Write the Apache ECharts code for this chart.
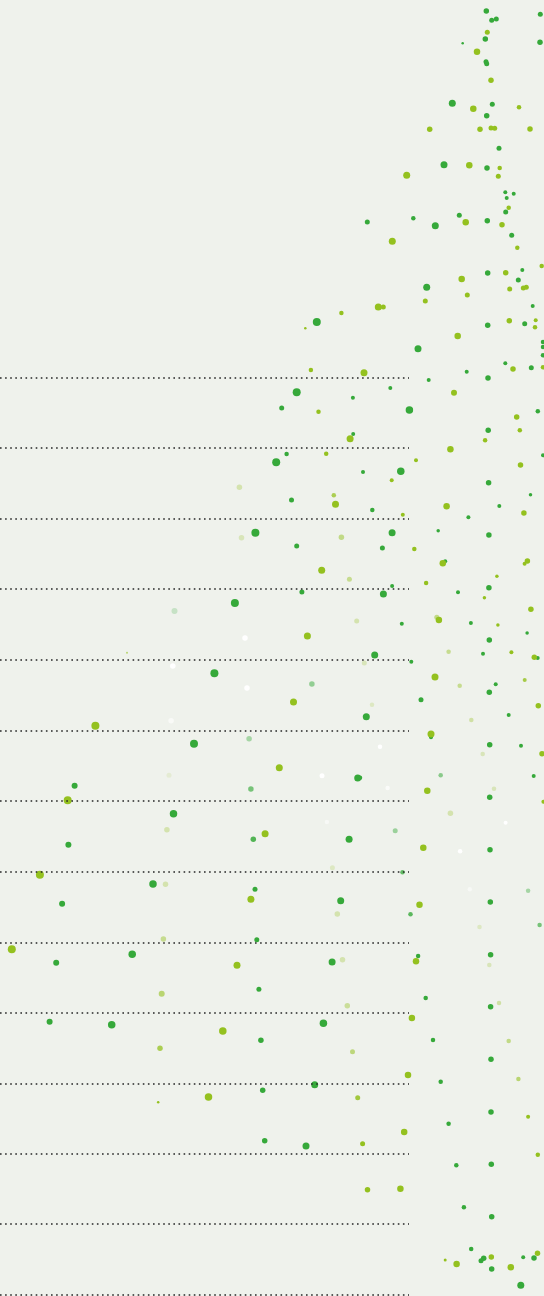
<!DOCTYPE html>
<html>
<head>
<meta charset="utf-8">
<script src="https://cdn.jsdelivr.net/npm/echarts@6/dist/echarts.min.js"></script>
<style>
html,body{margin:0;padding:0;background:#eff2ec;}
#chart{width:544px;height:1296px;}
</style>
</head>
<body>
<div id="chart"></div>
<script>
// Horizontal reference rows (y values) and where they end on the x scale
const rowLines = [377.3, 447.7, 518.3, 589, 659.7, 730.3, 800.7, 871.7, 942.3, 1012.7, 1083.7, 1153.5, 1223.7, 1295];
const rowLineEnd = 409;

// Dots: [x, y, diameter, opacity]
const greenDots = [
  [486.3,11,5.5],[491.7,20.3,5],[496.3,19,5],[540.3,14.3,5],[485.3,39,5.5],[540,42.3,5.5],[462.7,43.3,2.5],
  [486,61.7,5],[486.7,63.7,5],[452.3,103.3,7],[492.3,104.3,5],[486.7,115.7,5.5],[499,148.3,5],[444,164.7,7],
  [487,168,5.5],[505.3,192.3,4],[513.7,193.7,4],[506.7,198,4],[505.7,212,5],[367.3,222,5],[413.3,218.3,4.5],
  [435.3,225.7,7],[459.3,215.3,5],[487.3,220.7,5.5],[511.7,235.3,5],[487.7,273,5.5],[522.3,270,4],[518.3,280,5],
  [426.7,287.3,7],[532.7,306,4],[487.7,325.3,5.5],[524.7,323.7,5],[543,342,4.5],[543,347,4.5],[543,355.3,4.5],
  [418,348.7,7],[505.3,363.3,4],[531.3,367.7,5],[466.7,371.7,4],[488,378,5.5],[428.7,380,4],[390.3,388,4],
  [316.8,322,8],
  [296.7,392.3,8],[352.9,397.7,4],[409.4,410,7.5],[537.8,411.3,4.5],[281.7,408,5],[488.2,430.3,5.5],[353.2,434,4],
  [286.6,454,4.5],[543,455.3,4],[276.2,462.3,8],[363,472,4],[400.8,471.3,7.5],[488.6,482.7,5.5],[291.5,500,5],
  [530.5,494.7,3.5],[499.3,506,4],[372.3,510,4.5],[468.4,517.3,4],[255.4,532.7,8],[296.7,546,5],[392.1,532.7,7],
  [438.2,530.7,3.5],[488.9,535,5.5],[382.4,548,5],[445.2,561.3,4],[488.9,587.7,5.5],[392.1,586,4],[383.4,594,7],
  [301.9,592,5],[458,592.3,4],[234.9,603,8],[174.5,611,6,0.22],[401.8,623.7,4],[470.9,623,4],[527.1,633,3.5],
  [489.3,640,5.5],[374.7,655,7],[483,653.7,4],[537.7,658,4],
  [411.3,661.7,4],[495.7,684.3,4],[489.3,692.3,5.5],[421,699.7,5],[508.7,715,4],[366.3,716.7,7],[431,737.3,4],
  [489.7,744.7,5.5],[521,745.7,4],[360,777.7,4.5],[440.7,775.3,4.5,0.55],[533.7,776,4],[489.7,797.3,5.5],
  [214.4,673.3,8],[311.9,684,5.5,0.5],[194,743.7,8],[249.1,738.7,5.5,0.4],[357.7,778,7],[74.6,785.7,6],
  [250.9,789,5.5,0.65],[173.5,813.7,7.5],[253.3,839.3,5.5,0.85],[349.1,839.3,7],[395.2,830.7,5,0.45],
  [68.4,844.7,6],[490,849.7,5.5],[402.5,872.3,4.5,0.75],[153,884,7.5],[255,889.3,5],[340.7,900.7,7],
  [410.5,914.3,4.5,0.8],[528.1,890.7,4.5,0.4],[490.3,902,5.5],[539.6,925,4.5,0.65],[62.1,903.7,6],[56.2,962.7,6],
  [132.2,954.3,7.5],[256.8,939.7,5],[332.1,962,7],[418.1,956,4.5],[490.6,954.7,5.5],[258.9,989.3,5],
  [425.7,998,4.5],[490.6,1006.7,5.5],[49.6,1021.7,6],[111.7,1024.7,7.5],[323.4,1023.3,7.5],[260.9,1040.3,5.5],
  [433,1040,4.5],[491,1059.3,5.5],[440.7,1081.7,4.5],[314.7,1084.7,7],[262.7,1090.3,5.5],[491,1112,5.5],
  [448.6,1123.7,4.5],[264.7,1140.7,5.5],[306,1146,7],[456.3,1165.3,4.5],[491.3,1164.3,5.5],[463.9,1207.3,4.5],
  [491.7,1216.7,5.5],[471.2,1249,4.5],[481,1260.7,5],[483.7,1258.3,5.5],[491.7,1269,5.5],[523.2,1257.3,4],
  [534,1258,5.5],[520.8,1285.3,7]
];

const limeDots = [
  [487.3,32.3,5],[477,51.7,6.5],[491,80.3,5.5],[473.3,108.7,6.5],[519,107.3,4.5],[429.7,129.3,5.5],[480,129.3,5.5],
  [491,128,5],[494.7,128.3,5],[530,129,5.5],[469.3,165.3,6.5],[499.7,168,4.5],[498.3,176.3,5],[406.7,175.3,7],
  [508.7,207.7,4.5],[465.7,222.3,6.5],[502,224.7,5.5],[517.3,247.7,4.5],[392.3,241.3,7],[541.7,266,4.5],
  [505.7,272.7,5.5],[509.7,289,5],[523.3,288,5],[526.3,287.3,5],[461.7,279,6.5],[467.3,295,5],[425.3,301,5],
  [378.3,307,7],[383.3,307,5],[509.3,320.7,5.5],[535.7,320.3,4],[535,327.3,4.5],[543,367.3,4.5],[457.7,336,6.5],
  [513,369,5.5],[364,372.7,7],[454,392.7,6],[341.4,313,4.5],[305.3,328.3,2.5],
  [310.9,370,4.5],[318.5,411.7,4.5],[516.7,417,5.5],[519.8,430.3,4.5],[485.1,440.3,4.5],[350.1,438.7,7],
  [450.4,449.3,6.5],[326.2,453.7,4.5],[416,460.3,4],[520.5,465,5.5],[391.7,480.3,4],[239.4,487.3,5.5,0.3],
  [333.8,495.3,4.5,0.75],[335.5,504.3,7],[446.6,506.3,6.5],[523.9,513,5.5],[402.8,514.7,4],[241.5,537.7,5.5,0.25],
  [341.4,537.3,5.5,0.5],[414.3,549,4.5],[321.7,570.3,7],[349.4,579.3,5,0.45],[442.8,563.3,6.5],[527.4,561,5.5],
  [524.6,563.7,4],[496.9,576.3,3.5],[426.1,583,4.5],[484.4,597.7,3.5],[530.9,609.3,5.5],[356.7,621,5,0.3],
  [438.9,620,6.5],[436.8,617.3,5,0.5],[497.9,625,3.5],[307.4,636,7],[448.6,651.7,4.5,0.45],[511.4,652.3,4],
  [534.3,657.3,5.5],[127,652.7,2,0.6],
  [364.3,663,5,0.25],[435,677,7],[459.7,685.7,4.5,0.45],[524.7,680,4,0.8],[372,704.7,4.5,0.2],[538.3,705.7,5.5],
  [471.3,720,4.5,0.35],[431,734,7],[482.7,754,4.5,0.25],[542,753.7,5.5],[427.3,790.7,6.5],[494,788.7,4.5,0.25],
  [293.5,702,7],[95.4,725.7,8],[279.3,767.7,7],[169,775.3,5,0.12],[543.4,801.7,4],[67.7,800.3,8],
  [166.9,829.7,5.5,0.3],[265.1,833.7,7],[450.4,813.3,5.5,0.3],[423.3,847.7,6.5],[332.4,867.7,5,0.2],[39.9,874.7,8],
  [165.5,884.3,5.5,0.3],[250.9,899.3,7],[337.3,914,5.5,0.3],[419.5,904.7,6.5],[479.5,927,4.5,0.2],[11.8,949.3,8],
  [163.4,939,5.5,0.45],[237,965.3,7],[342.5,959.7,5.5,0.3],[416,961.3,6.5],[489.3,965,4.5,0.25],
  [161.7,993.7,6,0.6],[347.3,1005.7,5.5,0.4],[499,1003,4.5,0.35],[222.8,1031,7.5],[411.9,1018,6.5],
  [160,1048.3,5.5,0.75],[352.5,1051.7,5,0.55],[508.7,1041,4.5,0.5],[408,1075,6.5],[518.4,1079,4.5,0.6],
  [158.2,1102.3,2.5],[208.5,1097,7.5],[357.7,1097.7,5,0.85],[528.1,1116.7,4],[404.2,1132,6.5],[362.6,1143.7,5],
  [537.8,1154.7,4.5],[367.5,1189.7,5.5],[400.4,1188.7,6.5],[445.2,1260,3],[456.6,1264,6.5],[491.3,1257,5.5],
  [510.8,1267.3,6.5],[537.5,1253.3,5.5]
];

const whiteDots = [
  [245,638,5.5],[172.8,666,5.5],[247,688,5.5],[171.1,720.7,5.5,0.6],[322,775.7,5],[380,746.7,4.5],
  [387.6,788,4.5,0.7],[326.9,822,4.5,0.5],[505.6,822.7,4],[460.1,851.3,4.5],[469.8,889.3,4.5,0.5]
];

const COLORS = { green: '#36a93a', lime: '#94c11f', white: '#ffffff', bg: '#eff2ec', rule: '#262626' };

function toItems(arr) {
  return arr.map(d => ({
    value: [d[0], d[1]],
    symbolSize: d[2],
    itemStyle: { opacity: d.length > 3 ? d[3] : 1 }
  }));
}

function dotSeries(name, arr, color, z) {
  return {
    name: name,
    type: 'scatter',
    z: z,
    silent: true,
    symbol: 'circle',
    itemStyle: { color: color },
    emphasis: { disabled: true },
    data: toItems(arr)
  };
}

const chart = echarts.init(document.getElementById('chart'), null, { renderer: 'canvas' });
chart.setOption({
  backgroundColor: COLORS.bg,
  animation: false,
  grid: { left: 0, right: 0, top: 0, bottom: 0 },
  xAxis: { type: 'value', min: 0, max: 544, show: false },
  yAxis: { type: 'value', min: 0, max: 1296, inverse: true, show: false },
  series: [
    {
      name: 'rows',
      type: 'line',
      z: 1,
      silent: true,
      data: [],
      markLine: {
        silent: true,
        symbol: ['none', 'none'],
        label: { show: false },
        animation: false,
        lineStyle: { color: COLORS.rule, width: 1.5, type: [1.6, 3.5] },
        emphasis: { disabled: true },
        data: rowLines.map(v => [{ coord: [0, v] }, { coord: [rowLineEnd, v] }])
      }
    },
    dotSeries('white', whiteDots, COLORS.white, 2),
    dotSeries('green', greenDots, COLORS.green, 3),
    dotSeries('lime', limeDots, COLORS.lime, 4)
  ]
});
</script>
</body>
</html>
